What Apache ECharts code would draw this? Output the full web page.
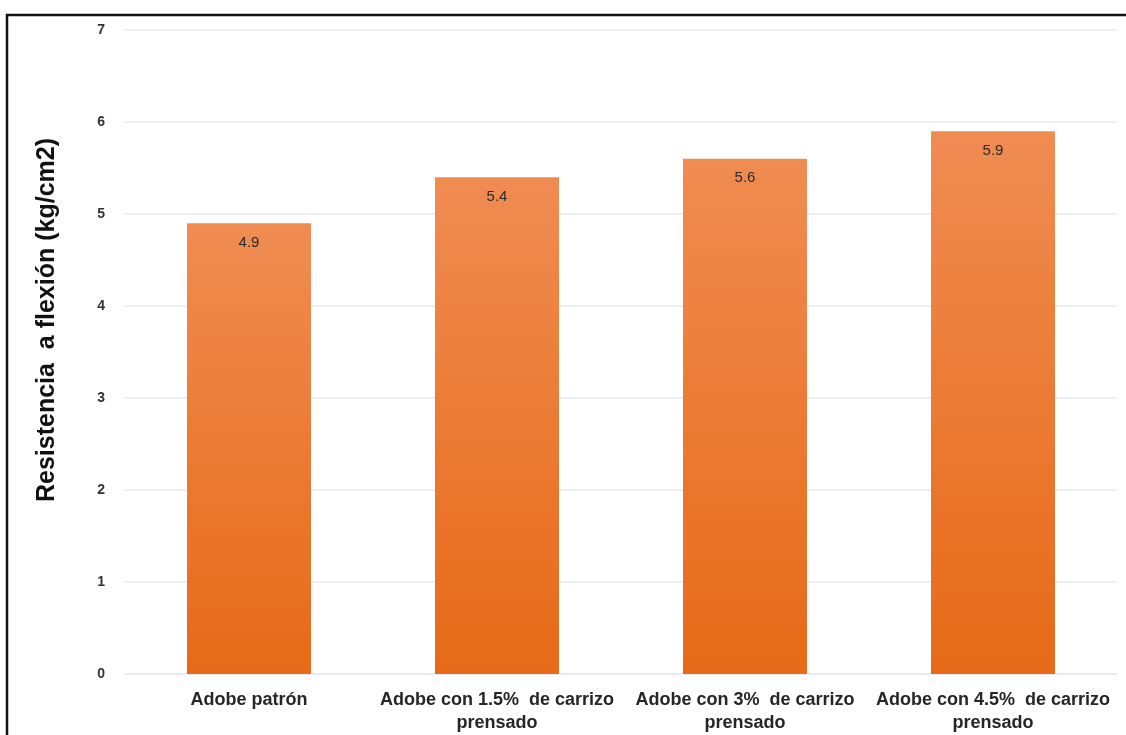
<!DOCTYPE html>
<html>
<head>
<meta charset="utf-8">
<script src="https://cdn.jsdelivr.net/npm/echarts@6/dist/echarts.min.js"></script>
<style>
  html, body { margin: 0; padding: 0; background: #fff; }
  #chart { width: 1126px; height: 735px; }
</style>
</head>
<body>
<div id="chart"></div>
<script>
// Flexural strength of adobe samples with pressed reed additions
const categories = [
  'Adobe patrón',
  'Adobe con 1.5%  de carrizo\nprensado',
  'Adobe con 3%  de carrizo\nprensado',
  'Adobe con 4.5%  de carrizo\nprensado'
];
const resistencia = [4.9, 5.4, 5.6, 5.9];
const yTicks = [0, 1, 2, 3, 4, 5, 6, 7];

const FONT = 'Liberation Sans, Arial, sans-serif';
const chart = echarts.init(document.getElementById('chart'));

chart.setOption({
  animation: false,
  backgroundColor: '#ffffff',
  grid: { left: 125, right: 9, top: 30, bottom: 60, containLabel: false },
  graphic: [
    // frame around the figure (left and top edges)
    { type: 'line', shape: { x1: 7, y1: 14, x2: 7, y2: 735 }, style: { stroke: '#111', lineWidth: 2.5 }, z: 100 },
    { type: 'line', shape: { x1: 6, y1: 15, x2: 1126, y2: 15 }, style: { stroke: '#111', lineWidth: 2.5 }, z: 100 }
  ],
  xAxis: {
    type: 'category',
    data: categories,
    axisLine: { show: true, lineStyle: { color: '#E6EAF0', width: 1.5 } },
    axisTick: { show: false },
    axisLabel: {
      interval: 0,
      margin: 15,
      color: '#262626',
      fontFamily: FONT,
      fontWeight: 'bold',
      fontSize: 18,
      lineHeight: 23
    }
  },
  yAxis: {
    type: 'value',
    min: yTicks[0],
    max: yTicks[yTicks.length - 1],
    interval: 1,
    name: 'Resistencia  a flexión (kg/cm2)',
    nameLocation: 'middle',
    nameGap: 65,
    nameTextStyle: {
      color: '#111',
      fontFamily: FONT,
      fontWeight: 'bold',
      fontSize: 25,
      padding: [0, 0, 0, 64]
    },
    axisLine: { show: false },
    axisTick: { show: false },
    splitLine: { lineStyle: { color: '#E6EAF0', width: 1.5 } },
    axisLabel: {
      margin: 20,
      color: '#333',
      fontFamily: FONT,
      fontWeight: 'bold',
      fontSize: 14
    }
  },
  series: [{
    type: 'bar',
    data: resistencia,
    barWidth: '50%',
    itemStyle: {
      color: new echarts.graphic.LinearGradient(0, 0, 0, 1, [
        { offset: 0, color: '#F08C52' },
        { offset: 1, color: '#E66A18' }
      ])
    },
    label: {
      show: true,
      position: 'insideTop',
      distance: 12,
      color: '#2a2a2a',
      fontFamily: FONT,
      fontSize: 15
    }
  }]
});
</script>
</body>
</html>
